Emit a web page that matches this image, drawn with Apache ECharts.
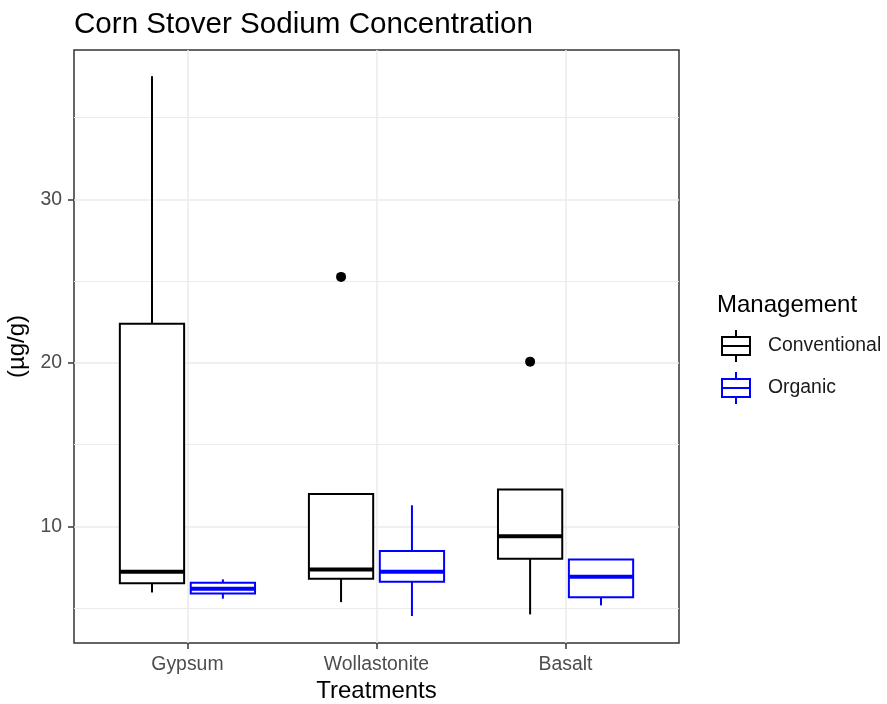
<!DOCTYPE html>
<html>
<head>
<meta charset="utf-8">
<script src="https://cdn.jsdelivr.net/npm/echarts@6/dist/echarts.min.js"></script>
<style>
  html, body { margin: 0; padding: 0; background: #fff; }
  #main { width: 887px; height: 704px; }
</style>
</head>
<body>
<div id="main"></div>
<script>
// treatments on the x axis
var categories = ['Gypsum', 'Wollastonite', 'Basalt'];
// boxplot stats per treatment: [lower whisker, Q1, median, Q3, upper whisker]
var conventional = [
    [5.97, 6.54, 7.24, 22.40, 37.53],
    [5.38, 6.81, 7.38, 11.99, 11.99],
    [4.63, 8.03, 9.41, 12.27, 12.27]
];
var organic = [
    [5.59, 5.90, 6.20, 6.57, 6.77],
    [4.53, 6.63, 7.24, 8.50, 11.30],
    [5.18, 5.68, 6.93, 7.99, 7.99]
];
// outliers: [treatment, value]
var conventionalOutliers = [['Wollastonite', 25.26], ['Basalt', 20.08]];
var organicOutliers = [];
var yTicks = [10, 20, 30];

var FONT = '"Liberation Sans", Arial, sans-serif';
var DODGE = 0.1875;
var BOXW = 0.34;

function boxData(stats) {
    return stats.map(function (s, i) {
        return [i + 1].concat(s);
    });
}
function outlierData(list, off) {
    return list.map(function (o) {
        return [categories.indexOf(o[0]) + 1 + off, o[1]];
    });
}

function boxRenderer(off, color) {
    return function (params, api) {
        var x = api.value(0) + off;
        var lo = api.coord([x, api.value(1)]);
        var q1 = api.coord([x, api.value(2)]);
        var md = api.coord([x, api.value(3)]);
        var q3 = api.coord([x, api.value(4)]);
        var hi = api.coord([x, api.value(5)]);
        var half = api.size([BOXW, 0])[0] / 2;
        var cx = lo[0];
        var st = { stroke: color, lineWidth: 2, fill: null };
        return {
            type: 'group',
            children: [
                { type: 'line', shape: { x1: cx, y1: hi[1], x2: cx, y2: q3[1] }, style: st },
                { type: 'line', shape: { x1: cx, y1: q1[1], x2: cx, y2: lo[1] }, style: st },
                { type: 'rect', shape: { x: cx - half, y: q3[1], width: half * 2, height: q1[1] - q3[1] },
                  style: { stroke: color, lineWidth: 2, fill: '#fff' } },
                { type: 'line', shape: { x1: cx - half, y1: md[1], x2: cx + half, y2: md[1] },
                  style: { stroke: color, lineWidth: 4 } }
            ]
        };
    };
}

var boxIcon = 'path://M15,0L15,7M1,7L29,7L29,25L1,25ZM1,16L29,16M15,25L15,32';

var dom = document.getElementById('main');
var myChart = echarts.init(dom, null, { renderer: 'canvas' });
var option = {
    backgroundColor: '#fff',
    animation: false,
    textStyle: { fontFamily: FONT },
    title: [
        {
            text: 'Corn Stover Sodium Concentration',
            left: 69,
            top: 5,
            textStyle: { fontFamily: FONT, fontSize: 29.6, fontWeight: 'normal', color: '#000' }
        },
        {
            text: 'Management',
            left: 712,
            top: 288,
            textStyle: { fontFamily: FONT, fontSize: 24, fontWeight: 'normal', color: '#000' }
        }
    ],
    legend: {
        orient: 'vertical',
        left: 721,
        top: 329,
        padding: 0,
        itemWidth: 30,
        itemHeight: 32,
        itemGap: 8,
        textStyle: { fontFamily: FONT, fontSize: 19.4, color: '#1a1a1a', padding: [0, 0, 0, 12] },
        data: [
            { name: 'Conventional', icon: boxIcon,
              itemStyle: { color: '#fff', borderColor: '#000', borderWidth: 2 } },
            { name: 'Organic', icon: boxIcon,
              itemStyle: { color: '#fff', borderColor: '#0000ff', borderWidth: 2 } }
        ]
    },
    grid: {
        left: 74,
        top: 50,
        width: 605,
        height: 593,
        show: true,
        borderColor: '#333',
        borderWidth: 1.5,
        backgroundColor: '#fff',
        outerBoundsMode: 'none'
    },
    xAxis: {
        type: 'value',
        min: 0.4,
        max: 3.6,
        name: 'Treatments',
        nameLocation: 'middle',
        nameGap: 36,
        nameTextStyle: { fontFamily: FONT, fontSize: 24, color: '#000' },
        axisLine: { show: false },
        axisTick: { show: true, length: 6, customValues: [1, 2, 3], lineStyle: { color: '#333', width: 1.5 } },
        axisLabel: {
            customValues: [1, 2, 3],
            margin: 12,
            fontFamily: FONT,
            fontSize: 19.4,
            color: '#4d4d4d',
            formatter: function (v) { return categories[Math.round(v) - 1]; }
        },
        splitLine: { show: true, lineStyle: { color: '#ebebeb', width: 1.5 } }
    },
    yAxis: {
        type: 'value',
        min: 2.88,
        max: 39.13,
        name: '(µg/g)',
        nameLocation: 'middle',
        nameGap: 39,
        nameRotate: 90,
        nameTextStyle: { fontFamily: FONT, fontSize: 24, color: '#000' },
        axisLine: { show: false },
        axisTick: { show: true, length: 6, customValues: yTicks, lineStyle: { color: '#333', width: 1.5 } },
        axisLabel: { customValues: yTicks, margin: 12, fontFamily: FONT, fontSize: 19.4, color: '#4d4d4d' },
        splitLine: { show: true, lineStyle: { color: '#ebebeb', width: 1.5 } },
        minorTick: { show: false, splitNumber: 2 },
        minorSplitLine: { show: true, lineStyle: { color: '#ebebeb', width: 1 } }
    },
    series: [
        {
            name: 'Conventional',
            type: 'custom',
            renderItem: boxRenderer(-DODGE, '#000'),
            encode: { x: 0, y: [1, 2, 3, 4, 5] },
            itemStyle: { color: '#000' },
            data: boxData(conventional),
            z: 3
        },
        {
            name: 'Organic',
            type: 'custom',
            renderItem: boxRenderer(DODGE, '#0000ff'),
            encode: { x: 0, y: [1, 2, 3, 4, 5] },
            itemStyle: { color: '#0000ff' },
            data: boxData(organic),
            z: 3
        },
        {
            name: 'Conventional',
            type: 'scatter',
            symbolSize: 10,
            itemStyle: { color: '#000', opacity: 1 },
            data: outlierData(conventionalOutliers, -DODGE),
            z: 4
        },
        {
            name: 'Organic',
            type: 'scatter',
            symbolSize: 10,
            itemStyle: { color: '#0000ff', opacity: 1 },
            data: outlierData(organicOutliers, DODGE),
            z: 4
        }
    ]
};
if (option && typeof option === 'object') {
    myChart.setOption(option, true);
}
</script>
</body>
</html>
